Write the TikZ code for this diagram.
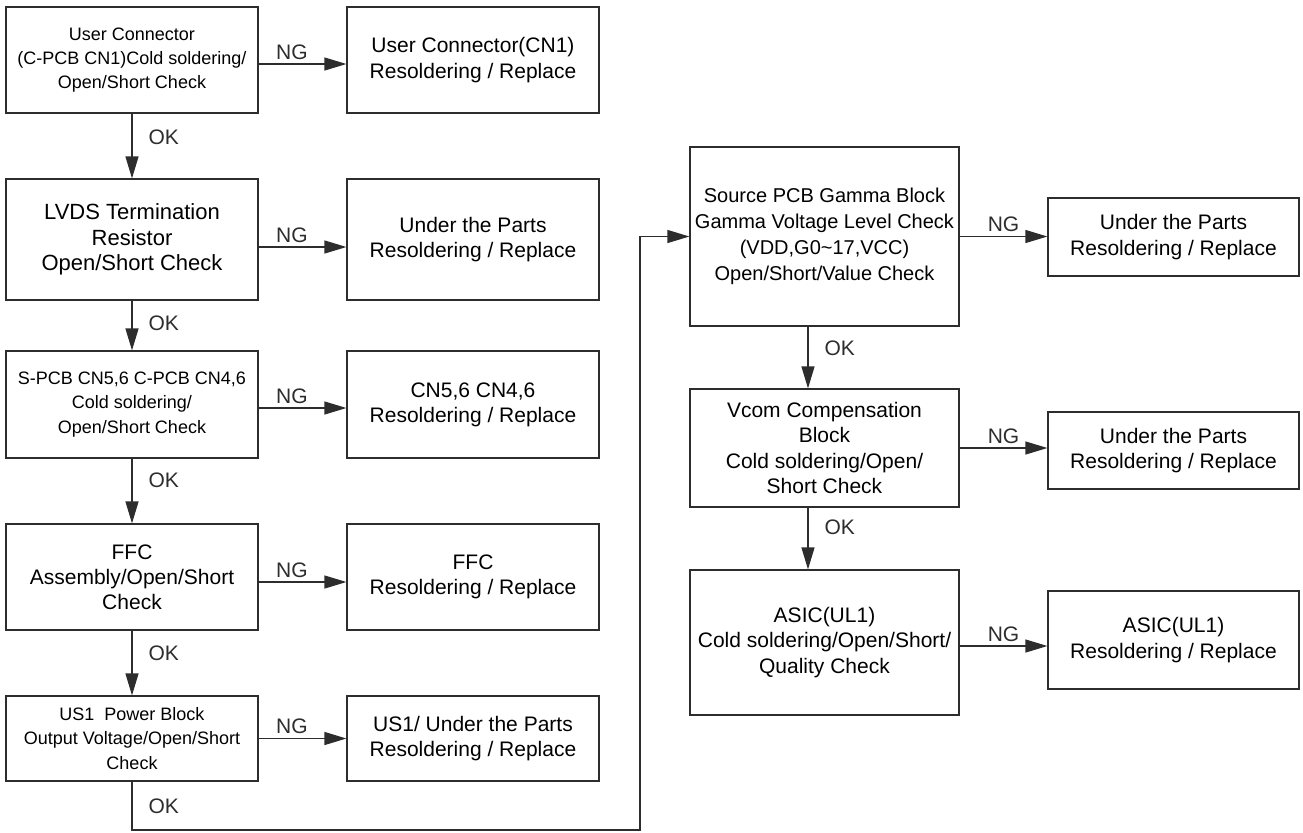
\documentclass[tikz,border=0pt]{standalone}
\usepackage{fontspec}
\setmainfont{Liberation Sans}
\usetikzlibrary{arrows.meta, positioning}
\definecolor{lineGray}{RGB}{45, 45, 45}

\begin{document}
\begin{tikzpicture}[x=0.5pt, y=-0.5pt,
    box/.style={draw=lineGray, line width=0.6pt, align=center, inner sep=0pt},
    txt/.style={font=\fontsize{10.5}{12.6}\selectfont},
    bigtxt/.style={font=\fontsize{11}{12.8}\selectfont},
    slimtxt/.style={font=\fontsize{10}{13}\selectfont},
    smalltxt/.style={font=\fontsize{9}{12.1}\selectfont},
    flow/.style={-{Triangle[length=11pt, width=6.5pt]}, line width=0.6pt, color=lineGray},
    lbl/.style={font=\fontsize{10.5}{12.6}\selectfont, inner sep=2pt}]
    \useasboundingbox (0,0) rectangle (1303,832);

    % Left column: checks
    \node[box, smalltxt, minimum width=126pt, minimum height=53pt] (usrChk) at (132, 60) {User Connector\\(C-PCB CN1)Cold soldering/\\Open/Short Check};
    \node[box, bigtxt, minimum width=126pt, minimum height=60.5pt] (lvdsChk) at (132, 239.5) {LVDS Termination\\Resistor\\Open/Short Check};
    \node[box, smalltxt, minimum width=126pt, minimum height=53.5pt] (cnChk) at (132, 404.5) {S-PCB CN5,6 C-PCB CN4,6\\Cold soldering/\\Open/Short Check};
    \node[box, txt, minimum width=126pt, minimum height=53pt] (ffcChk) at (132, 577) {FFC\\Assembly/Open/Short\\Check};
    \node[box, smalltxt, minimum width=126pt, minimum height=42.5pt] (pwrChk) at (132, 738.5) {US1\ \ Power Block\\Output Voltage/Open/Short\\Check};

    % Left column: repairs
    \node[box, txt, minimum width=126pt, minimum height=53pt] (usrFix) at (473, 60) {User Connector(CN1)\\Resoldering / Replace};
    \node[box, txt, minimum width=126pt, minimum height=60.5pt] (lvdsFix) at (473, 239.5) {Under the Parts\\Resoldering / Replace};
    \node[box, txt, minimum width=126pt, minimum height=53.5pt] (cnFix) at (473, 404.5) {CN5,6 CN4,6\\Resoldering / Replace};
    \node[box, txt, minimum width=126pt, minimum height=53pt] (ffcFix) at (473, 577) {FFC\\Resoldering / Replace};
    \node[box, txt, minimum width=126pt, minimum height=42.5pt] (pwrFix) at (473, 738.5) {US1/ Under the Parts\\Resoldering / Replace};

    % Right column: checks
    \node[box, slimtxt, minimum width=134.5pt, minimum height=89.5pt] (gamChk) at (824.5, 236.5) {Source PCB Gamma Block\\Gamma Voltage Level Check\\(VDD,G0\textasciitilde17,VCC)\\Open/Short/Value Check};
    \node[box, txt, minimum width=134.5pt, minimum height=59pt] (vcomChk) at (824.5, 448) {Vcom Compensation\\Block\\Cold soldering/Open/\\Short Check};
    \node[box, txt, minimum width=134.5pt, minimum height=72.5pt] (asicChk) at (824.5, 642.5) {ASIC(UL1)\\Cold soldering/Open/Short/\\Quality Check};

    % Right column: repairs
    \node[box, txt, minimum width=125.5pt, minimum height=39pt] (gamFix) at (1173.5, 237) {Under the Parts\\Resoldering / Replace};
    \node[box, txt, minimum width=125.5pt, minimum height=38.5pt] (vcomFix) at (1173.5, 450.5) {Under the Parts\\Resoldering / Replace};
    \node[box, txt, minimum width=125.5pt, minimum height=49pt] (asicFix) at (1173.5, 640) {ASIC(UL1)\\Resoldering / Replace};

    % NG arrows
    \draw[flow] ([yshift=-2pt]usrChk.east) -- node[lbl, above, pos=0.38] {NG} ([yshift=-2pt]usrFix.west);
    \draw[flow] ([yshift=-3.75pt]lvdsChk.east) -- node[lbl, above, pos=0.38] {NG} ([yshift=-3.75pt]lvdsFix.west);
    \draw[flow] ([yshift=-1.75pt]cnChk.east) -- node[lbl, above, pos=0.38] {NG} ([yshift=-1.75pt]cnFix.west);
    \draw[flow] ([yshift=-2.5pt]ffcChk.east) -- node[lbl, above, pos=0.38] {NG} ([yshift=-2.5pt]ffcFix.west);
    \draw[flow] (pwrChk.east) -- node[lbl, above, pos=0.38] {NG} (pwrFix.west);
    \draw[flow] (gamChk.east) -- node[lbl, above] {NG} (gamChk.east -| gamFix.west);
    \draw[flow] (vcomChk.east) -- node[lbl, above] {NG} (vcomChk.east -| vcomFix.west);
    \coordinate (asicNG) at ([yshift=-1.75pt]asicChk.east);
    \draw[flow] (asicNG) -- node[lbl, above] {NG} (asicNG -| asicFix.west);

    % OK arrows
    \draw[flow] (usrChk) -- node[lbl, right=6pt, pos=0.36] {OK} (lvdsChk);
    \draw[flow] (lvdsChk) -- node[lbl, right=6pt, pos=0.45] {OK} (cnChk);
    \draw[flow] (cnChk) -- node[lbl, right=6pt, pos=0.33] {OK} (ffcChk);
    \draw[flow] (ffcChk) -- node[lbl, right=6pt, pos=0.35] {OK} (pwrChk);
    \coordinate (backTurn) at (640, 830);
    \draw[flow] (pwrChk.south) |- node[lbl, right=6pt, pos=0.25] {OK} (backTurn) |- (gamChk.west);
    \draw[flow] ([xshift=-8.25pt]gamChk.south) -- node[lbl, right=6pt, pos=0.35] {OK} ([xshift=-8.25pt]vcomChk.north);
    \draw[flow] ([xshift=-8.25pt]vcomChk.south) -- node[lbl, right=6pt, pos=0.32] {OK} ([xshift=-8.25pt]asicChk.north);
\end{tikzpicture}
\end{document}
